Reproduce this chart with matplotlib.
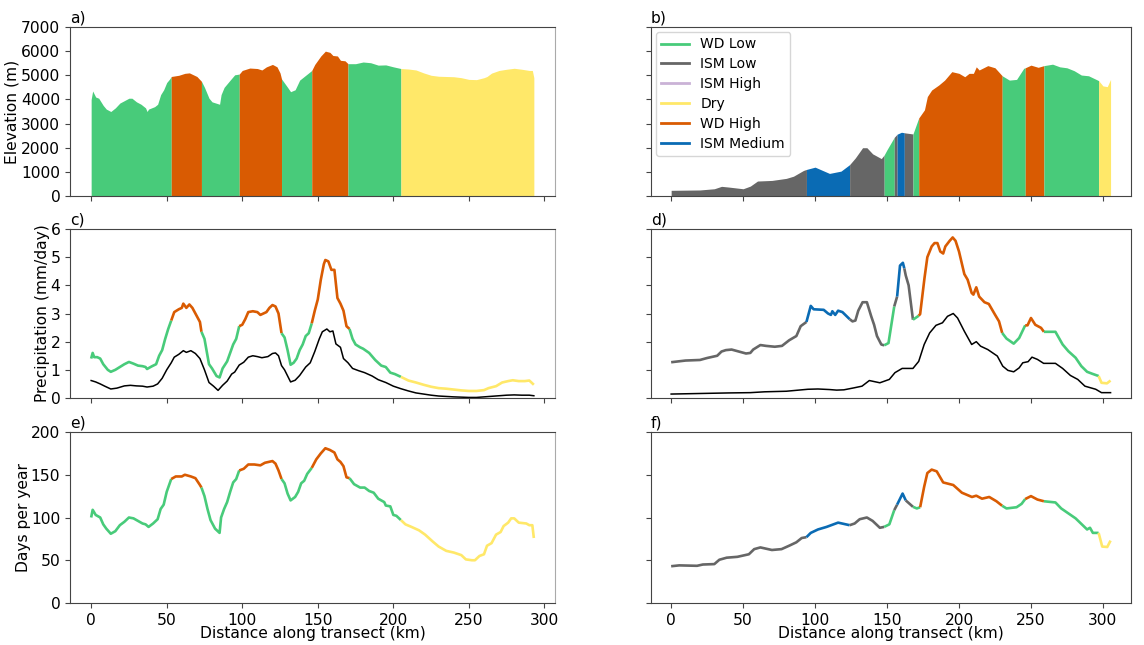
import matplotlib
matplotlib.use("Agg")
import matplotlib.pyplot as plt
import numpy as np
from matplotlib.lines import Line2D

# regime names and colours
regime_names = ["WD Low", "ISM Low", "ISM High", "Dry", "WD High", "ISM Medium"]
regime_colors = ["#48CB7A", "#666666", "#CAB2D6", "#FFE869", "#D95B02", "#0A6BB4"]

# regime boundaries along each transect (km)
left_breaks = [0, 53, 73, 98, 126, 146, 170, 205, 293]
left_regimes = ["WD Low", "WD High", "WD Low", "WD High", "WD Low", "WD High", "WD Low", "Dry"]
right_breaks = [0, 94, 124, 148, 155, 157, 162, 168, 172, 230, 246, 259, 297, 305.3]
right_regimes = ["ISM Low", "ISM Medium", "ISM Low", "WD Low", "ISM Low", "ISM Medium", "ISM Low",
                 "WD Low", "WD High", "WD Low", "WD High", "WD Low", "Dry"]

# a) elevation, left transect
dist_a = [0, 1, 3, 5, 8, 10, 13, 16, 19, 22, 25, 27, 30, 33, 36, 37, 38, 42, 44, 46, 48, 50, 52, 53, 58, 62, 65, 70, 73,
          75, 78, 80, 85, 86, 88, 92, 95, 98, 100, 105, 110, 113, 116, 120, 123, 125, 126, 130, 132, 135, 138, 142, 146,
          148, 152, 155, 158, 160, 163, 165, 168, 170, 175, 180, 185, 190, 195, 200, 205, 210, 215, 220, 225, 230, 235,
          240, 245, 250, 255, 260, 262, 265, 270, 275, 280, 285, 290, 292, 293]
elev_a = [4000, 4350, 4100, 4050, 3750, 3600, 3500, 3650, 3850, 3950, 4050, 4050, 3900, 3800, 3650, 3500, 3600, 3700,
          3800, 4200, 4400, 4700, 4850, 4950, 5000, 5080, 5100, 4950, 4750, 4500, 4050, 3900, 3800, 4200, 4500, 4800,
          5020, 5050, 5200, 5300, 5280, 5220, 5350, 5450, 5350, 5100, 4850, 4500, 4320, 4400, 4800, 5000, 5200, 5450,
          5800, 6000, 5950, 5820, 5800, 5620, 5600, 5480, 5480, 5550, 5520, 5420, 5430, 5350, 5280, 5260, 5220, 5100,
          5000, 4960, 4950, 4940, 4900, 4830, 4820, 4900, 4950, 5090, 5200, 5250, 5290, 5250, 5200, 5200, 4900]

# b) elevation, right transect
dist_b = [0, 20, 30, 35, 40, 50, 55, 60, 70, 80, 85, 92, 94, 100, 110, 118, 124, 128, 133, 136, 140, 146, 148, 150, 155,
          157, 160, 162, 163, 168, 172, 176, 178, 181, 186, 190, 195, 200, 204, 207, 210, 212, 214, 220, 225, 230, 235,
          240, 245, 246, 250, 255, 259, 265, 270, 275, 280, 285, 290, 297, 300, 303, 305.3]
elev_b = [235, 250, 300, 400, 370, 300, 410, 620, 645, 730, 820, 1060, 1100, 1195, 935, 1030, 1300, 1580, 2000, 2000,
          1745, 1550, 1700, 1920, 2430, 2560, 2640, 2620, 2610, 2570, 3230, 3570, 4120, 4390, 4600, 4800, 5150, 5080,
          4940, 5080, 5080, 5350, 5220, 5400, 5310, 4980, 4800, 4830, 5290, 5310, 5420, 5330, 5400, 5460, 5350, 5310,
          5190, 5010, 4980, 4780, 4560, 4530, 4830]

# c) precipitation, left transect
dist_c = [0, 1, 2, 4, 6, 8, 11, 13, 16, 19, 22, 25, 28, 31, 34, 36, 37, 40, 43, 45, 47, 49, 51, 53, 55, 58, 60, 61, 63,
          65, 67, 70, 72, 73, 75, 78, 80, 83, 85, 87, 90, 92, 94, 96, 98, 100, 102, 104, 107, 110, 112, 114, 116, 118,
          120, 122, 124, 126, 128, 130, 132, 134, 136, 138, 140, 142, 144, 146, 148, 150, 152, 154, 155, 157, 159, 161,
          163, 165, 167, 169, 171, 173, 175, 178, 180, 184, 188, 192, 195, 198, 201, 205, 210, 215, 220, 225, 230, 235,
          240, 245, 250, 255, 260, 263, 268, 272, 276, 279, 283, 287, 290, 293]
precip_c = [1.4, 1.6, 1.45, 1.45, 1.4, 1.2, 1.0, 0.93, 1.0, 1.1, 1.2, 1.28, 1.22, 1.15, 1.13, 1.1, 1.03, 1.12, 1.2, 1.5,
            1.7, 2.1, 2.45, 2.75, 3.05, 3.15, 3.2, 3.35, 3.2, 3.32, 3.2, 2.9, 2.7, 2.35, 2.1, 1.2, 1.05, 0.78, 0.73,
            1.05, 1.3, 1.6, 1.9, 2.1, 2.55, 2.6, 2.8, 3.05, 3.08, 3.05, 2.95, 3.0, 3.05, 3.2, 3.3, 3.25, 3.0, 2.3, 2.15,
            1.7, 1.18, 1.25, 1.4, 1.7, 1.9, 2.2, 2.3, 2.65, 3.1, 3.5, 4.2, 4.75, 4.9, 4.85, 4.55, 4.55, 3.55, 3.35, 3.1,
            2.55, 2.45, 2.1, 1.9, 1.8, 1.75, 1.6, 1.35, 1.15, 1.1, 0.9, 0.85, 0.75, 0.62, 0.55, 0.47, 0.4, 0.35, 0.33,
            0.3, 0.27, 0.25, 0.25, 0.28, 0.35, 0.42, 0.55, 0.6, 0.63, 0.6, 0.6, 0.62, 0.47]
dist_c_black = [0, 3, 6, 9, 13, 17, 22, 26, 30, 34, 37, 41, 44, 47, 50, 53, 55, 58, 61, 63, 66, 69, 72, 75, 78, 81, 84,
                87, 90, 93, 95, 98, 101, 104, 107, 110, 113, 117, 120, 122, 124, 126, 128, 132, 135, 138, 142, 145, 148,
                151, 153, 156, 158, 160, 162, 165, 167, 170, 173, 177, 181, 186, 190, 195, 200, 205, 210, 215, 220, 225,
                230, 240, 250, 255, 260, 265, 270, 275, 280, 285, 290, 293]
black_c = [0.62, 0.57, 0.5, 0.42, 0.32, 0.35, 0.43, 0.45, 0.43, 0.42, 0.39, 0.42, 0.5, 0.7, 1.0, 1.25, 1.45, 1.55, 1.68,
           1.62, 1.68, 1.58, 1.4, 1.0, 0.55, 0.42, 0.27, 0.45, 0.6, 0.85, 0.92, 1.17, 1.27, 1.45, 1.5, 1.47, 1.43, 1.47,
           1.58, 1.6, 1.5, 1.15, 1.0, 0.57, 0.63, 0.8, 1.1, 1.25, 1.65, 2.1, 2.35, 2.45, 2.35, 2.38, 1.92, 1.8, 1.4,
           1.25, 1.05, 0.97, 0.9, 0.78, 0.65, 0.55, 0.42, 0.33, 0.25, 0.18, 0.14, 0.1, 0.07, 0.04, 0.02, 0.02, 0.04,
           0.06, 0.08, 0.1, 0.11, 0.1, 0.1, 0.08]

# d) precipitation, right transect
dist_d = [0, 10, 20, 25, 32, 35, 38, 42, 47, 52, 55, 57, 62, 66, 72, 77, 82, 87, 90, 94, 97, 99, 106, 109, 111, 112, 114,
          116, 119, 123, 124, 126, 128, 130, 133, 136, 139, 141, 143, 146, 148, 151, 155, 157, 159, 161, 162, 163, 165,
          168, 172, 173, 176, 178, 181, 183, 185, 187, 189, 190.5, 193.5, 195.6, 197.6, 200, 203.7, 206, 208.8, 210,
          212, 214, 217.7, 220.7, 225, 227.8, 230, 233, 238, 241.8, 246, 247.6, 250, 253, 257, 259, 267, 272, 276, 281,
          285, 289, 292.6, 297, 299, 302.8, 305.3]
precip_d = [1.27, 1.33, 1.35, 1.42, 1.5, 1.65, 1.7, 1.72, 1.65, 1.58, 1.6, 1.72, 1.88, 1.85, 1.82, 1.85, 2.05, 2.2, 2.55,
            2.7, 3.27, 3.15, 3.13, 3.0, 2.95, 3.08, 2.95, 3.1, 3.05, 2.85, 2.8, 2.72, 2.75, 3.1, 3.4, 3.4, 2.9, 2.6, 2.2,
            1.9, 1.87, 1.95, 3.25, 3.6, 4.7, 4.8, 4.6, 4.35, 4.0, 2.78, 2.92, 2.98, 4.25, 5.0, 5.38, 5.5, 5.5, 5.2, 5.13,
            5.38, 5.58, 5.7, 5.58, 5.2, 4.4, 4.2, 3.73, 3.67, 3.93, 3.6, 3.4, 3.34, 2.96, 2.72, 2.31, 2.11, 1.93, 2.13,
            2.58, 2.58, 2.84, 2.6, 2.49, 2.35, 2.35, 1.9, 1.66, 1.43, 1.13, 0.93, 0.86, 0.78, 0.54, 0.52, 0.62]
dist_d_black = [0, 20, 40, 55, 65, 80, 95, 102, 110, 115, 120, 127, 132.6, 137.7, 145, 151.6, 155.5, 160.5, 168, 172,
                175.8, 179.6, 184, 188.5, 192, 196, 199, 203.7, 208.8, 212, 215, 220, 226.6, 230.4, 234, 238, 241.8,
                244.3, 248, 250.7, 254.5, 258.8, 267, 272, 277.4, 282.5, 287.5, 295, 299, 305.3]
black_d = [0.14, 0.16, 0.18, 0.19, 0.22, 0.24, 0.31, 0.32, 0.3, 0.28, 0.29, 0.36, 0.42, 0.62, 0.54, 0.66, 0.9, 1.05, 1.05,
           1.3, 1.9, 2.31, 2.58, 2.67, 2.9, 3.0, 2.84, 2.37, 1.9, 2.0, 1.84, 1.72, 1.49, 1.13, 0.98, 0.93, 1.07, 1.25,
           1.29, 1.45, 1.37, 1.23, 1.23, 1.05, 0.8, 0.66, 0.42, 0.31, 0.19, 0.19]

# e) wet days, left transect
dist_e = [0, 1, 3, 6, 8, 10, 13, 16, 19, 22, 25, 28, 31, 34, 36, 38, 41, 44, 46, 48, 50, 52, 53, 56, 60, 62, 66, 69, 72,
          73, 75, 77, 79, 82, 85, 86, 88, 90, 92, 94, 96, 98, 101, 104, 108, 112, 115, 120, 122, 124, 126, 128, 130, 132,
          135, 137, 139, 141, 143, 146, 149, 152, 155, 158, 161, 163, 165, 167, 169, 171, 174, 178, 181, 184, 187, 190,
          194, 195, 198, 200, 202, 205, 208, 212, 217, 221, 226, 230, 235, 240, 245, 248, 252, 254, 257, 260, 262, 265,
          268, 271, 273, 276, 278, 280, 283, 288, 290, 292, 293]
days_e = [100, 109, 103, 100, 92, 87, 81, 84, 91, 95, 100, 99, 96, 93, 92, 89, 93, 98, 110, 115, 130, 140, 145, 148, 148,
          150, 148, 146, 138, 135, 125, 110, 97, 87, 82, 100, 110, 118, 130, 141, 145, 155, 157, 162, 162, 161, 164, 166,
          163, 155, 145, 140, 128, 120, 124, 130, 140, 143, 151, 158, 168, 175, 181, 179, 176, 168, 165, 160, 147, 146,
          139, 135, 135, 131, 129, 122, 118, 114, 113, 103, 102, 97, 92, 89, 85, 80, 72, 66, 61, 59, 56, 51, 50, 50, 55,
          57, 67, 70, 80, 83, 90, 94, 99, 99, 94, 93, 91, 91, 76]

# f) wet days, right transect
dist_f = [0, 5.6, 18, 22, 30, 33.5, 38.6, 46, 54, 57.7, 62, 70, 76.7, 82, 87, 90.7, 94, 97, 102, 108, 116, 124, 127.5,
          131, 136, 140, 145, 148, 151.6, 155, 157, 160.8, 163, 168, 170.7, 173, 175.8, 178, 181, 184.5, 189, 196, 202,
          209, 212, 216, 221, 226, 230, 233, 240, 243.5, 246, 250, 254.5, 259, 267, 271, 281, 289, 291, 293, 297, 299.5,
          303, 305.3]
days_f = [43, 44, 43.5, 45, 45.5, 50.6, 53, 54, 57, 63, 65, 62, 63, 67, 71, 76, 77, 82, 86, 89, 94, 91, 93, 98, 100, 96,
          88, 89, 92, 108.6, 115, 128, 120, 112.5, 110.6, 112, 136, 152, 156, 154, 141, 138, 129, 124, 125.5, 122, 124,
          119, 113.7, 110.6, 112, 116, 121.6, 125, 121, 119, 117.6, 110.6, 99, 86, 88, 82, 82, 66, 65.5, 73]

x_ticks = [0, 50, 100, 150, 200, 250, 300]
elev_ticks = [0, 1000, 2000, 3000, 4000, 5000, 6000, 7000]
precip_ticks = [0, 1, 2, 3, 4, 5, 6]
days_ticks = [0, 50, 100, 150, 200]

color_map = dict(zip(regime_names, regime_colors))
FONT = 11.2


def segments(x, breaks, regimes):
    # index ranges per regime, neighbours share one point so there are no gaps
    x = np.array(x)
    for start, end, name in zip(breaks[:-1], breaks[1:], regimes):
        i0 = np.searchsorted(x, start)
        i1 = np.searchsorted(x, end)
        yield i0, i1 + 1, color_map[name]


def draw_fill(ax, x, y, breaks, regimes):
    x, y = np.array(x), np.array(y)
    for i0, i1, col in segments(x, breaks, regimes):
        ax.fill_between(x[i0:i1], 0, y[i0:i1], color=col, linewidth=0)


def draw_line(ax, x, y, breaks, regimes):
    x, y = np.array(x), np.array(y)
    for i0, i1, col in segments(x, breaks, regimes):
        ax.plot(x[i0:i1], y[i0:i1], color=col, linewidth=1.9, solid_capstyle="butt")


def make_axes(px_left, px_right, px_top, px_bottom, xlim, ylim, yticks, letter, show_y, show_x):
    ax = fig.add_axes([px_left / W, 1 - px_bottom / H, (px_right - px_left) / W, (px_bottom - px_top) / H])
    ax.set_xlim(*xlim)
    ax.set_ylim(*ylim)
    ax.set_xticks(x_ticks)
    ax.set_yticks(yticks)
    if not show_x:
        ax.set_xticklabels([])
    if not show_y:
        ax.set_yticklabels([])
    ax.tick_params(labelsize=FONT, color="#444444")
    ax.set_title(letter, loc="left", fontsize=FONT, pad=3)
    for side in ax.spines:
        ax.spines[side].set_color("#444444")
    if show_y:
        ax.spines["right"].set_color("#aaaaaa")
    return ax


W, H = 1144, 645
fig = plt.figure(figsize=(W / 100, H / 100), dpi=100)

left_xlim = (-14, 307)
right_xlim = (-14, 319.5)

ax_a = make_axes(70, 555, 27, 196, left_xlim, (0, 7000), elev_ticks, "a)", True, False)
ax_b = make_axes(651, 1131, 27, 196, right_xlim, (0, 7000), elev_ticks, "b)", False, False)
ax_c = make_axes(70, 555, 229, 398, left_xlim, (0, 6), precip_ticks, "c)", True, False)
ax_d = make_axes(651, 1131, 229, 398, right_xlim, (0, 6), precip_ticks, "d)", False, False)
ax_e = make_axes(70, 555, 432, 603, left_xlim, (0, 200), days_ticks, "e)", True, True)
ax_f = make_axes(651, 1131, 432, 603, right_xlim, (0, 200), days_ticks, "f)", False, True)

draw_fill(ax_a, dist_a, elev_a, left_breaks, left_regimes)
draw_fill(ax_b, dist_b, elev_b, right_breaks, right_regimes)

ax_c.plot(dist_c_black, black_c, color="black", linewidth=1.1)
draw_line(ax_c, dist_c, precip_c, left_breaks, left_regimes)
ax_d.plot(dist_d_black, black_d, color="black", linewidth=1.1)
draw_line(ax_d, dist_d, precip_d, right_breaks, right_regimes)
draw_line(ax_e, dist_e, days_e, left_breaks, left_regimes)
draw_line(ax_f, dist_f, days_f, right_breaks, right_regimes)

ax_a.set_ylabel("Elevation (m)", fontsize=FONT, labelpad=1)
ax_c.set_ylabel("Precipitation (mm/day)", fontsize=FONT, labelpad=0)
ax_e.set_ylabel("Days per year", fontsize=FONT, labelpad=0)
ax_e.set_xlabel("Distance along transect (km)", fontsize=FONT, labelpad=-1)
ax_f.set_xlabel("Distance along transect (km)", fontsize=FONT, labelpad=-1)

handles = [Line2D([0], [0], color=c, linewidth=2) for c in regime_colors]
ax_b.legend(handles, regime_names, loc="upper left", fontsize=10, labelspacing=0.42, borderaxespad=0.35)

plt.savefig("out.png", dpi=100)
